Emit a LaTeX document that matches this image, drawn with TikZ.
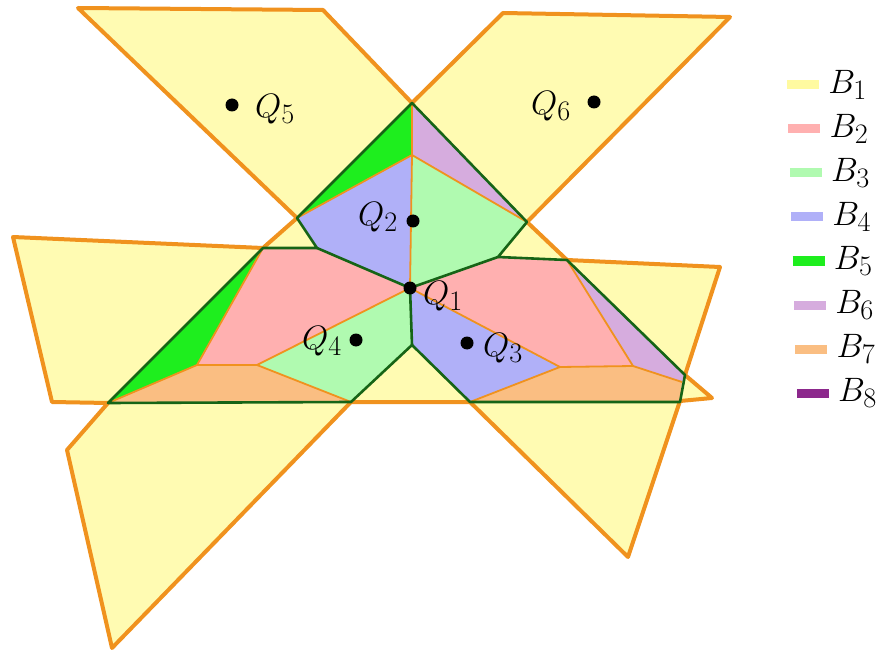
\documentclass[tikz,border=0pt]{standalone}
\definecolor{cB1}{RGB}{255,251,178}
\definecolor{cB2}{RGB}{255,176,176}
\definecolor{cB3}{RGB}{176,250,176}
\definecolor{cB4}{RGB}{176,176,248}
\definecolor{cB5}{RGB}{30,238,30}
\definecolor{cB6}{RGB}{214,172,222}
\definecolor{cB7}{RGB}{250,190,130}
\definecolor{cB8}{RGB}{140,40,140}
\definecolor{bar1}{RGB}{255,250,160}
\definecolor{orng}{RGB}{240,146,30}
\definecolor{dgrn}{RGB}{22,100,22}
\begin{document}
\begin{tikzpicture}[x=1pt,y=-1pt,
  outer/.style={draw=orng,line width=4pt,line join=round,fill=cB1},
  thin/.style={draw=orng,line width=1.8pt,line join=round},
  gline/.style={draw=dgrn,line width=2.6pt,line join=round},
  dot/.style={circle,fill=black,inner sep=0pt,minimum size=13pt},
  lab/.style={font=\Huge,scale=1.36,inner sep=0pt},
  legbar/.style={line width=9pt},
  leglab/.style={font=\Huge,scale=1.36,inner sep=0pt,anchor=west}]
\useasboundingbox (0,0) rectangle (889,655);
% key points
\coordinate (A) at (412,103);
\coordinate (C) at (412,155);
\coordinate (L1) at (297,218);
\coordinate (R1) at (527,222);
\coordinate (L2) at (263,248);
\coordinate (L3) at (317,248);
\coordinate (R2) at (498,257);
\coordinate (R3) at (567,260);
\coordinate (P1) at (410,288);
\coordinate (LP) at (197,365);
\coordinate (LQ) at (257,365);
\coordinate (RP) at (560,367);
\coordinate (RQ) at (633,366);
\coordinate (RV) at (682,382);
\coordinate (RG) at (685,375);
\coordinate (RB) at (680,402);
\coordinate (RBL) at (470,402);
\coordinate (M) at (412,345);
\coordinate (LBR) at (351,402);
\coordinate (LB) at (108,403);
% yellow region B1
\path[outer] (78,8) -- (323,10) -- (A) -- (503,13) -- (730,17) -- (R1) -- (R3)
  -- (720,267) -- (RG) -- (712,398) -- (680,401) -- (628,557) -- (RBL) -- (LBR)
  -- (112,648) -- (67,450) -- (LB) -- (52,402) -- (13,237) -- (L2) -- (L1) -- cycle;
% cells
\fill[cB5] (A) -- (C) -- (L1) -- cycle;
\fill[cB6] (A) -- (R1) -- (C) -- cycle;
\fill[cB4] (L1) -- (C) -- (P1) -- (L3) -- cycle;
\fill[cB3] (C) -- (R1) -- (R2) -- (P1) -- cycle;
\fill[cB2] (L2) -- (L3) -- (P1) -- (LQ) -- (LP) -- cycle;
\fill[cB3] (P1) -- (M) -- (LBR) -- (LQ) -- cycle;
\fill[cB7] (LB) -- (LP) -- (LQ) -- (LBR) -- cycle;
\fill[cB5] (LB) -- (L2) -- (LP) -- cycle;
\fill[cB2] (P1) -- (R2) -- (R3) -- (RQ) -- (RP) -- cycle;
\fill[cB4] (P1) -- (RP) -- (RBL) -- (M) -- cycle;
\fill[cB7] (RP) -- (RQ) -- (RV) -- (RB) -- (RBL) -- cycle;
\fill[cB6] (R3) -- (RG) -- (RV) -- (RQ) -- cycle;
% thin orange boundaries
\draw[thin] (A) -- (C) -- (P1);
\draw[thin] (L1) -- (C) -- (R1);
\draw[thin] (L2) -- (LP) -- (LQ) -- (P1);
\draw[thin] (LQ) -- (LBR);
\draw[thin] (LP) -- (LB);
\draw[thin] (P1) -- (RP) -- (RQ) -- (R3);
\draw[thin] (RP) -- (RBL);
\draw[thin] (RQ) -- (RV);
% green boundaries
\draw[gline] (A) -- (R1) -- (R2) -- (R3) -- (RG) -- (RB) -- (RBL) -- (M) -- (LBR)
  -- (LB) -- (L2) -- (L3) -- (L1) -- cycle;
\draw[gline] (L3) -- (P1) -- (R2);
\draw[gline] (P1) -- (M);
% points
\node[dot] (q1) at (410,288) {};
\node[dot] (q2) at (413,221) {};
\node[dot] (q3) at (467,343) {};
\node[dot] (q4) at (356,340) {};
\node[dot] (q5) at (232,105) {};
\node[dot] (q6) at (594,102) {};
\node[lab] (t1) at (443,296) {$Q_1$};
\node[lab] (t2) at (378,217) {$Q_2$};
\node[lab] (t3) at (503,348) {$Q_3$};
\node[lab] (t4) at (322,341) {$Q_4$};
\node[lab] (t5) at (275,109) {$Q_5$};
\node[lab] (t6) at (551,106) {$Q_6$};
% legend
\foreach \i/\c in {1/bar1,2/cB2,3/cB3,4/cB4,5/cB5,6/cB6,7/cB7,8/cB8}{
  \pgfmathsetmacro{\yy}{85+44*(\i-1)}
  \pgfmathsetmacro{\xx}{787+1.4*(\i-1)}
  \draw[legbar,\c] (\xx,\yy) -- ++(32,0);
  \node[leglab] (b\i) at (\xx+41,\yy) {$B_{\i}$};
}
\end{tikzpicture}
\end{document}
